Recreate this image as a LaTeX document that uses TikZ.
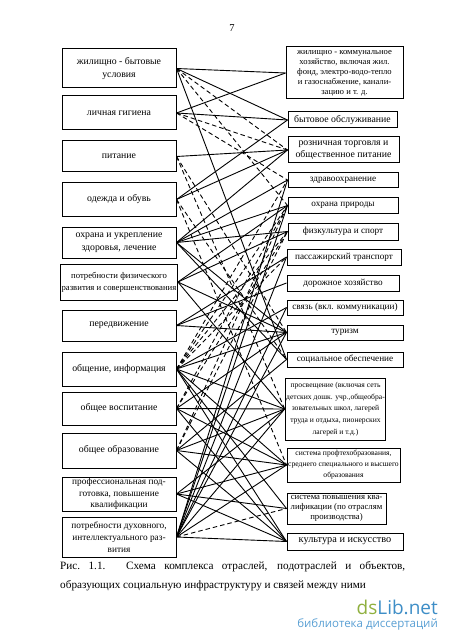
\documentclass[tikz,border=0pt]{standalone}
\usepackage{fontspec}
\setmainfont{Liberation Serif}
\newfontfamily\wmfont{Open Sans}
\usetikzlibrary{positioning}

\definecolor{wmgreen}{RGB}{143,176,62}
\definecolor{wmblue}{RGB}{62,142,199}
\definecolor{wmlight}{RGB}{90,160,212}

\begin{document}
\begin{tikzpicture}[x=1pt,y=-1pt,
  lbox/.style={draw,line width=1pt,minimum width=114pt,align=center,inner sep=1pt,
    font=\fontsize{9.8}{12.5}\selectfont},
  rbox/.style={draw,line width=1pt,align=center,inner sep=1pt,
    font=\fontsize{9.2}{10.5}\selectfont},
  link/.style={line width=0.9pt},
  dlink/.style={line width=0.9pt,dash pattern=on 4.5pt off 3pt}]

\useasboundingbox (0,0) rectangle (450,644);

% номер страницы
\node[font=\fontsize{10.5}{12}\selectfont] (pnum) at (232,28) {7};

% потребности (левый столбец)
\node[lbox,minimum height=39pt] (L1) at (119,68.5) {жилищно - бытовые\\условия};
\node[lbox,minimum height=34pt] (L2) at (119,113) {личная гигиена};
\node[lbox,minimum height=31pt] (L3) at (119,156.5) {питание};
\node[lbox,minimum height=33pt] (L4) at (119,199.5) {одежда и обувь};
\node[lbox,minimum height=31pt] (L5) at (119,242.5) {охрана и укрепление\\здоровья, лечение};
\node[lbox,minimum height=36pt,font=\fontsize{8.7}{12}\selectfont] (L6) at (119,282) {потребности физического\\развития и совершенствования};
\node[lbox,minimum height=31pt] (L7) at (119,325.5) {передвижение};
\node[lbox,minimum height=34pt] (L8) at (119,369) {общение, информация};
\node[lbox,minimum height=33pt] (L9) at (119,408.5) {общее воспитание};
\node[lbox,minimum height=35pt] (L10) at (119,450.5) {общее образование};
\node[lbox,minimum height=34pt,font=\fontsize{9.3}{11.5}\selectfont] (L11) at (119,494) {профессиональная под-\\готовка, повышение\\квалификации};
\node[lbox,minimum height=40pt,font=\fontsize{9.3}{12}\selectfont] (L12) at (119,537) {потребности духовного,\\интеллектуального раз-\\вития};

% отрасли (правый столбец)
\node[rbox,minimum width=117pt,minimum height=52pt,font=\fontsize{8.6}{10}\selectfont] (R1) at (344.5,73) {жилищно - коммунальное\\хозяйство, включая жил.\\фонд, электро-водо-тепло\\и газоснабжение, канали-\\зацию и т. д.};
\node[rbox,minimum width=109pt,minimum height=16pt,font=\fontsize{9.8}{11}\selectfont] (R2) at (342.5,120) {бытовое обслуживание};
\node[rbox,minimum width=111pt,minimum height=26pt,font=\fontsize{9.8}{11.5}\selectfont] (R3) at (343.5,150) {розничная торговля и\\общественное питание};
\node[rbox,minimum width=110pt,minimum height=15pt] (R4) at (343,180) {здравоохранение};
\node[rbox,minimum width=110pt,minimum height=15pt] (R5) at (343,205.5) {охрана природы};
\node[rbox,minimum width=110pt,minimum height=17pt] (R6) at (343,231.5) {физкультура и спорт};
\node[rbox,minimum width=114pt,minimum height=16pt] (R7) at (344,257) {пассажирский транспорт};
\node[rbox,minimum width=112pt,minimum height=16pt] (R8) at (343,283) {дорожное хозяйство};
\node[rbox,minimum width=116pt,minimum height=15pt] (R9) at (345,307.5) {связь (вкл. коммуникации)};
\node[rbox,minimum width=116pt,minimum height=15pt] (R10) at (345,332.5) {туризм};
\node[rbox,minimum width=116pt,minimum height=15pt] (R11) at (345,359.5) {социальное обеспечение};
\node[rbox,minimum width=95pt,minimum height=62pt,font=\fontsize{7.6}{11.8}\selectfont] (R12) at (335.5,409) {просвещение (включая сеть\\детских дошк. учр.,общеобра-\\зовательных школ, лагерей\\труда и отдыха, пионерских\\лагерей и т.д.)};
\node[rbox,minimum width=113pt,minimum height=34pt,font=\fontsize{7.6}{11}\selectfont] (R13) at (343.5,465) {система профтехобразования,\\среднего специального и высшего\\образования};
\node[rbox,minimum width=99pt,minimum height=31pt,font=\fontsize{8.7}{10}\selectfont] (R14) at (336.5,508.5) {система повышения ква-\\лификации (по отраслям\\производства)};
\node[rbox,minimum width=116pt,minimum height=17pt,font=\fontsize{10.3}{12}\selectfont] (R15) at (345,541.5) {культура и искусство};

% прямые связи
\foreach \a/\b in {L1/R1,L1/R2,L1/R11,L2/R1,L2/R2,L3/R3,L4/R2,L4/R3,
    L5/R3,L5/R4,L5/R5,L5/R6,L5/R10,L5/R11,L6/R5,L6/R6,L6/R10,L6/R12,
    L7/R7,L7/R8,L7/R10,L8/R9,L8/R10,L8/R12,L8/R13,L8/R14,L8/R15,
    L9/R10,L9/R12,L9/R13,L9/R15,L10/R11,L10/R12,L10/R13,L10/R15,
    L11/R12,L11/R13,L11/R14,L11/R15,L12/R4,L12/R5,L12/R7,L12/R9,L12/R10,
    L12/R12,L12/R13,L12/R15}
  \draw[link] (\a.east) -- (\b.west);

% косвенные связи
\foreach \a/\b in {L1/R3,L1/R5,L2/R3,L2/R4,L3/R10,L3/R12,L4/R11,L4/R13,
    L8/R4,L8/R5,L8/R6,L8/R7,L9/R5,L9/R6,L10/R5,L10/R6,L12/R14}
  \draw[dlink] (\a.east) -- (\b.west);

% подпись
\node[anchor=north west,text width=345pt,align=justify,inner sep=0pt,
  font=\fontsize{11.2}{19.5}\selectfont] (cap) at (60,561)
  {Рис.\ 1.1. Схема комплекса отраслей, подотраслей и объектов,\linebreak
   образующих социальную инфраструктуру и связей между ними};

% водяной знак
\fill[white] (265,589) rectangle (450,644);
\node[anchor=south east,inner sep=0pt,font=\wmfont\fontsize{19}{20}\selectfont] (wm) at (438,615)
  {\textcolor{wmgreen}{ds}\textcolor{wmblue}{Lib.net}};
\node[anchor=north east,inner sep=0pt,font=\wmfont\fontsize{11.5}{13}\selectfont,text=wmlight] (wmsub) at (438,618)
  {библиотека диссертаций};

\end{tikzpicture}
\end{document}
